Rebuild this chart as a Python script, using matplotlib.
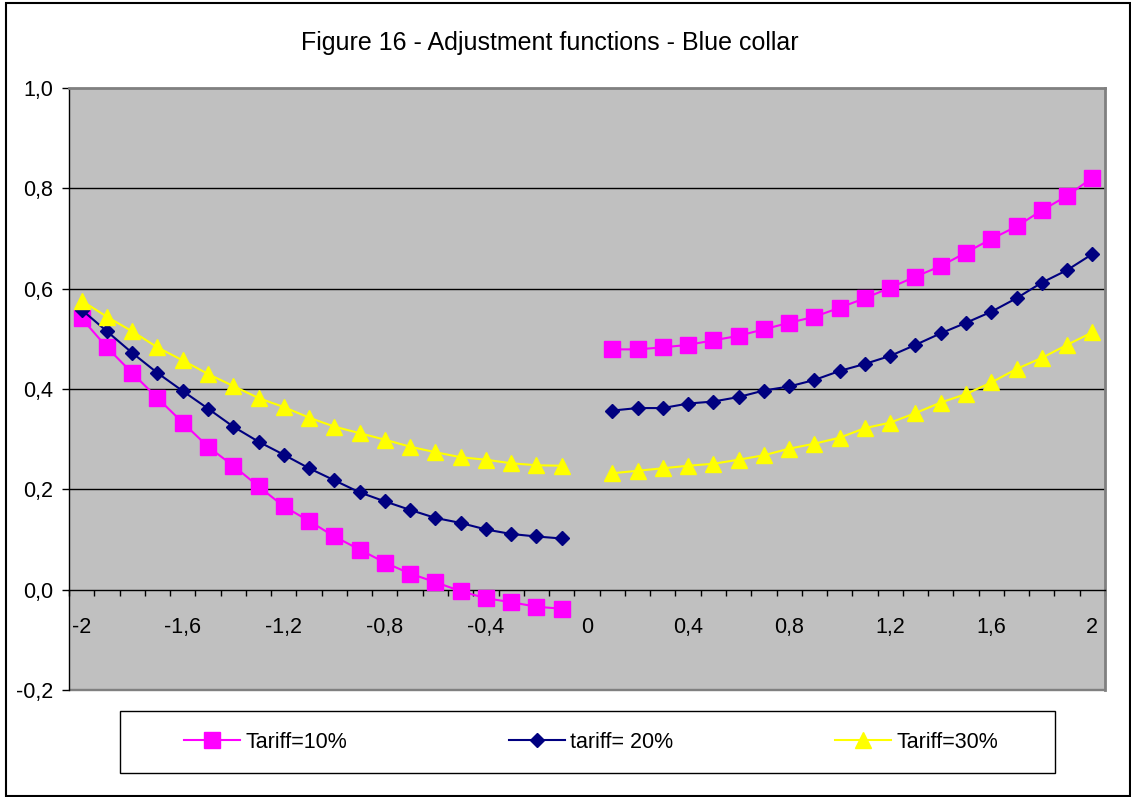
import matplotlib.pyplot as plt
from matplotlib.patches import Rectangle
from matplotlib.lines import Line2D

plt.rcParams['font.family'] = ['Liberation Sans', 'DejaVu Sans']

# x categories (the chart has no point at 0)
x_left = [-2.0, -1.9, -1.8, -1.7, -1.6, -1.5, -1.4, -1.3, -1.2, -1.1,
          -1.0, -0.9, -0.8, -0.7, -0.6, -0.5, -0.4, -0.3, -0.2, -0.1]
x_right = [0.1, 0.2, 0.3, 0.4, 0.5, 0.6, 0.7, 0.8, 0.9, 1.0,
           1.1, 1.2, 1.3, 1.4, 1.5, 1.6, 1.7, 1.8, 1.9, 2.0]

tariff10_left = [0.541, 0.483, 0.432, 0.382, 0.333, 0.285, 0.247, 0.206, 0.166, 0.137,
                 0.106, 0.080, 0.054, 0.032, 0.015, -0.003, -0.017, -0.025, -0.034, -0.038]
tariff20_left = [0.558, 0.515, 0.472, 0.432, 0.396, 0.361, 0.325, 0.295, 0.269, 0.242,
                 0.218, 0.194, 0.176, 0.159, 0.143, 0.133, 0.120, 0.111, 0.106, 0.102]
tariff30_left = [0.576, 0.544, 0.515, 0.483, 0.457, 0.430, 0.406, 0.382, 0.364, 0.343,
                 0.325, 0.312, 0.299, 0.285, 0.274, 0.264, 0.259, 0.252, 0.248, 0.247]

tariff10_right = [0.479, 0.479, 0.483, 0.488, 0.497, 0.506, 0.519, 0.532, 0.544, 0.562,
                  0.581, 0.602, 0.624, 0.645, 0.672, 0.699, 0.724, 0.756, 0.785, 0.821]
tariff20_right = [0.357, 0.362, 0.362, 0.371, 0.375, 0.384, 0.397, 0.405, 0.418, 0.436,
                  0.450, 0.466, 0.488, 0.511, 0.532, 0.554, 0.581, 0.612, 0.637, 0.669]
tariff30_right = [0.232, 0.237, 0.242, 0.247, 0.251, 0.259, 0.268, 0.281, 0.291, 0.303,
                  0.322, 0.333, 0.352, 0.373, 0.390, 0.413, 0.440, 0.462, 0.488, 0.513]

labels = ["Tariff=10%", "tariff= 20%", "Tariff=30%"]
colors = ["#FF00FF", "#000080", "#FFFF00"]

x_label_pos = [-2.0, -1.6, -1.2, -0.8, -0.4, 0.0, 0.4, 0.8, 1.2, 1.6, 2.0]
x_label_txt = ["-2", "-1,6", "-1,2", "-0,8", "-0,4", "0", "0,4", "0,8", "1,2", "1,6", "2"]
y_ticks = [-0.2, 0.0, 0.2, 0.4, 0.6, 0.8, 1.0]
y_tick_txt = ["-0,2", "0,0", "0,2", "0,4", "0,6", "0,8", "1,0"]

W, H = 1131, 797
fig = plt.figure(figsize=(W / 100, H / 100), dpi=100)
ax = fig.add_axes([69 / W, 1 - 690 / H, (1105 - 69) / W, (690 - 88) / H])
ax.set_facecolor("#C0C0C0")

series = [
    (tariff10_left, tariff10_right, "s", 11.5, 1.5),
    (tariff20_left, tariff20_right, "D", 6.8, 1.5),
    (tariff30_left, tariff30_right, "^", 12.0, 1.5),
]
for i, (yl, yr, mk, ms, lw) in enumerate(series):
    for xs, ys in ((x_left, yl), (x_right, yr)):
        ax.plot(xs, ys, color=colors[i], marker=mk, markersize=ms, linewidth=lw,
                markeredgecolor=colors[i], zorder=3 + i, clip_on=False)

ax.set_xlim(-2.05, 2.05)
ax.set_ylim(-0.2, 1.0)

# horizontal gridlines
for yv in [0.2, 0.4, 0.6, 0.8]:
    ax.axhline(yv, color="black", linewidth=1.0, zorder=1)

# spines
ax.spines["bottom"].set_position(("data", 0))
ax.spines["bottom"].set_color("black")
ax.spines["bottom"].set_linewidth(1.0)
ax.spines["left"].set_color("black")
ax.spines["left"].set_linewidth(1.0)
for s in ("top", "right"):
    ax.spines[s].set_color("#808080")
    ax.spines[s].set_linewidth(2.0)
ax.add_patch(Rectangle((0, 0), 1, 0.002, transform=ax.transAxes,
                       facecolor="#808080", edgecolor="#808080", linewidth=1.0,
                       clip_on=False, zorder=2))

# x ticks: marks at category boundaries, labels at values
bounds = [-2.05 + 0.1 * k for k in range(42)]
ax.set_xticks(bounds, minor=True)
ax.set_xticks(x_label_pos)
ax.set_xticklabels(x_label_txt, fontsize=15.5)
ax.tick_params(axis="x", which="minor", direction="out", length=4.5, width=1.0, color="black")
ax.tick_params(axis="x", which="major", length=0, pad=19.5)

ax.set_yticks(y_ticks)
ax.set_yticklabels(y_tick_txt, fontsize=15.5)
ax.tick_params(axis="y", which="major", direction="out", length=5, width=1.0, pad=6.5)

fig.text(550 / W, 1 - 43 / H, "Figure 16 - Adjustment functions - Blue collar",
         ha="center", va="center", fontsize=18)

# legend box and entries
fig.add_artist(Rectangle((120 / W, 1 - 773 / H), (1055 - 120) / W, (773 - 711) / H,
                         transform=fig.transFigure, facecolor="white",
                         edgecolor="black", linewidth=1.0))
handles = [
    Line2D([], [], color=colors[0], marker="s", markersize=11.5, linewidth=1.5),
    Line2D([], [], color=colors[1], marker="D", markersize=6.8, linewidth=1.5),
    Line2D([], [], color=colors[2], marker="^", markersize=12.0, linewidth=1.5),
]
fig.legend(handles, labels, loc="center", bbox_to_anchor=(591 / W, 1 - 742 / H),
           frameon=False, ncol=3, columnspacing=7.5, handlelength=2.6,
           handletextpad=0.25, fontsize=15.5)

# outer frame
fig.add_artist(Rectangle((6 / W, 1 - 796 / H), (1130 - 6) / W, (796 - 3) / H,
                         transform=fig.transFigure, facecolor="none",
                         edgecolor="black", linewidth=1.5))

fig.savefig("out.png", dpi=100)
